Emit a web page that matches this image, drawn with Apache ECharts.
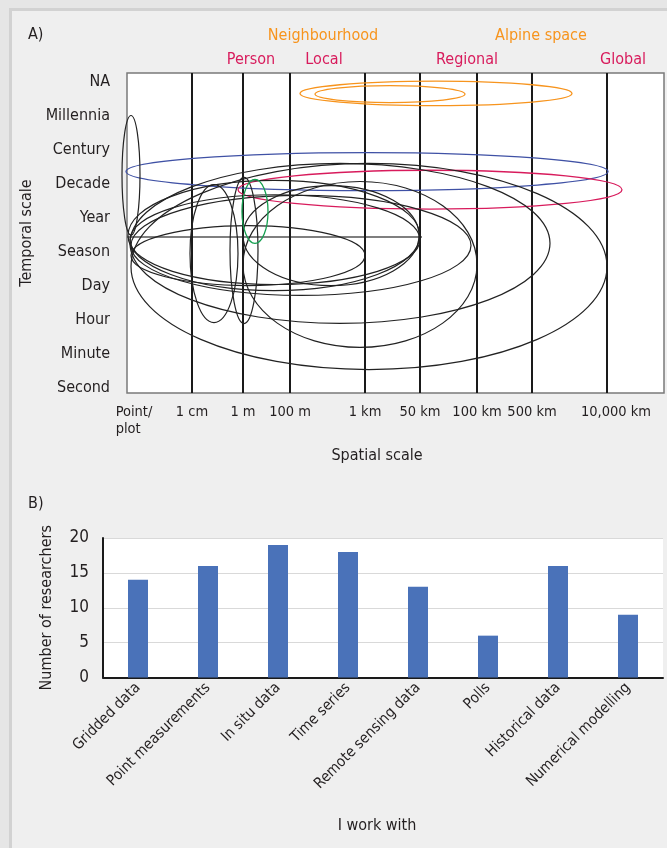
<!DOCTYPE html>
<html>
<head>
<meta charset="utf-8">
<script src="https://cdn.jsdelivr.net/npm/echarts@6/dist/echarts.min.js"></script>
<style>
html,body{margin:0;padding:0;background:#e6e6e6;}
#frame{position:absolute;left:9px;top:8px;width:658px;height:840px;background:#efefef;border-left:3px solid #d2d2d2;border-top:3px solid #d2d2d2;}
#chart{position:absolute;left:0;top:0;width:667px;height:848px;}
</style>
</head>
<body>
<div id="frame"></div>
<div id="chart"></div>
<script>
// ---------- Panel A data ----------
const spatialLabels = ['Point/\nplot', '1 cm', '1 m', '100 m', '1 km', '50 km', '100 km', '500 km', '10,000 km'];
const spatialPos = [0, 6.5, 11.6, 16.3, 23.8, 29.3, 35.0, 40.5, 48.0];
const temporalLabels = ['Second', 'Minute', 'Hour', 'Day', 'Season', 'Year', 'Decade', 'Century', 'Millennia', 'NA'];
const temporalPos = [0, 1, 2, 3, 4, 5, 6, 7, 8, 9];
// ellipses: [centre x, centre y, radius x, radius y] in axis units
const blackEllipses = [
  [0.4, 6.24, 0.9, 1.76],
  [8.7, 3.94, 2.4, 2.03],
  [11.7, 4.03, 1.4, 2.15],
  [12.1, 3.88, 11.7, 0.88],
  [20.4, 4.47, 8.8, 1.47],
  [14.7, 4.47, 14.6, 1.62],
  [14.8, 4.35, 14.5, 1.32],
  [17.4, 4.18, 17.0, 1.47],
  [23.3, 3.62, 11.7, 2.44],
  [21.3, 4.24, 21.0, 2.35],
  [24.2, 3.56, 23.8, 3.03]
];
const blueEllipses = [[24.0, 6.35, 24.1, 0.56]];
const pinkEllipses = [[30.3, 5.82, 19.2, 0.57]];
const greenEllipses = [[12.8, 5.18, 1.3, 0.94]];
const orangeEllipses = [[30.9, 8.65, 13.6, 0.36], [26.3, 8.63, 7.5, 0.25]];
const crossLine = [[0, 4.43], [29.5, 4.43]];
const scaleTitlesOrange = ['Neighbourhood', 'Alpine space'];
const scaleTitlesPink = ['Person', 'Local', 'Regional', 'Global'];

// ---------- Panel B data ----------
const dataTypes = ['Gridded data', 'Point measurements', 'In situ data', 'Time series', 'Remote sensing data', 'Polls', 'Historical data', 'Numerical modelling'];
const researchers = [14, 16, 19, 18, 13, 6, 16, 9];

const FONT = "'Liberation Sans Narrow', 'DejaVu Sans Condensed', 'Roboto', sans-serif";
const TXT = '#231f20';
const ORANGE = '#f7941d';
const PINK = '#d81b5c';

function ellipseSeries(data, color, width) {
  return {
    type: 'custom', xAxisIndex: 0, yAxisIndex: 0, data: data, clip: false, silent: true, z: 5,
    renderItem: function (params, api) {
      const c = api.coord([api.value(0), api.value(1)]);
      const s = api.size([api.value(2), api.value(3)]);
      return { type: 'ellipse', shape: { cx: c[0], cy: c[1], rx: s[0], ry: s[1] },
        style: { fill: 'none', stroke: color, lineWidth: width } };
    }
  };
}

const chart = echarts.init(document.getElementById('chart'), null, { renderer: 'canvas' });
chart.setOption({
  animation: false,
  backgroundColor: 'transparent',
  textStyle: { fontFamily: FONT },
  grid: [
    { left: 127, right: 3, top: 73, height: 320, show: true, backgroundColor: '#ffffff', borderColor: '#7a7a7a', borderWidth: 1.5 },
    { left: 103, right: 4, top: 538, height: 139.5, show: true, backgroundColor: '#ffffff', borderWidth: 0 }
  ],
  xAxis: [
    { type: 'value', gridIndex: 0, min: 0, max: 53.7,
      axisLine: { show: false }, axisTick: { show: false }, splitLine: { show: false },
      axisLabel: { customValues: spatialPos, fontSize: 14.5, color: TXT, margin: 11, fontFamily: FONT, lineHeight: 17,
        formatter: function (v) {
          const i = spatialPos.indexOf(v);
          if (i < 0) return '';
          if (i === 0) return '{first|' + spatialLabels[i] + '}';
          if (i === spatialLabels.length - 1) return '{last|' + spatialLabels[i] + '}';
          return spatialLabels[i];
        },
        rich: {
          first: { fontSize: 14.5, lineHeight: 17, color: TXT, fontFamily: FONT, align: 'left', padding: [0, 0, 0, 14] },
          last: { fontSize: 14.5, lineHeight: 17, color: TXT, fontFamily: FONT, padding: [0, 0, 0, 18] }
        } } },
    { type: 'category', gridIndex: 1, data: dataTypes,
      axisLine: { show: true, lineStyle: { color: '#1a1a1a', width: 2 } },
      axisTick: { show: false },
      axisLabel: { rotate: 45, fontSize: 15, color: TXT, margin: 8, fontFamily: FONT, interval: 0 },
      name: 'I work with', nameLocation: 'middle', nameGap: 140,
      nameTextStyle: { fontSize: 16, color: TXT, fontFamily: FONT, padding: [0, 12, 0, 0] } }
  ],
  yAxis: [
    { type: 'value', gridIndex: 0, min: -0.16, max: 9.25,
      axisLine: { show: false }, axisTick: { show: false }, splitLine: { show: false },
      axisLabel: { customValues: temporalPos, fontSize: 16, color: TXT, margin: 17, fontFamily: FONT,
        formatter: function (v) { const i = temporalPos.indexOf(v); return i >= 0 ? temporalLabels[i] : ''; } },
      name: 'Temporal scale', nameLocation: 'middle', nameGap: 85,
      nameTextStyle: { fontSize: 16, color: TXT, fontFamily: FONT } },
    { type: 'value', gridIndex: 1, min: 0, max: 20, interval: 5,
      axisLine: { show: true, lineStyle: { color: '#1a1a1a', width: 2 } },
      axisTick: { show: false },
      splitLine: { show: true, lineStyle: { color: '#d9d9d9', width: 1 } },
      axisLabel: { fontSize: 17, color: TXT, margin: 14, fontFamily: FONT },
      name: 'Number of researchers', nameLocation: 'middle', nameGap: 48,
      nameTextStyle: { fontSize: 16, color: TXT, fontFamily: FONT } }
  ],
  graphic: [
    { type: 'text', left: 28, top: 27, style: { text: 'A)', fontSize: 16, fill: TXT, fontFamily: FONT } },
    { type: 'text', left: 28, top: 496, style: { text: 'B)', fontSize: 16, fill: TXT, fontFamily: FONT } },
    { type: 'text', x: 323, y: 36, style: { text: scaleTitlesOrange[0], fontSize: 16, fill: ORANGE, fontFamily: FONT, align: 'center', verticalAlign: 'middle' } },
    { type: 'text', x: 541, y: 36, style: { text: scaleTitlesOrange[1], fontSize: 16, fill: ORANGE, fontFamily: FONT, align: 'center', verticalAlign: 'middle' } },
    { type: 'text', x: 251, y: 60, style: { text: scaleTitlesPink[0], fontSize: 16, fill: PINK, fontFamily: FONT, align: 'center', verticalAlign: 'middle' } },
    { type: 'text', x: 324, y: 60, style: { text: scaleTitlesPink[1], fontSize: 16, fill: PINK, fontFamily: FONT, align: 'center', verticalAlign: 'middle' } },
    { type: 'text', x: 467, y: 60, style: { text: scaleTitlesPink[2], fontSize: 16, fill: PINK, fontFamily: FONT, align: 'center', verticalAlign: 'middle' } },
    { type: 'text', x: 623, y: 60, style: { text: scaleTitlesPink[3], fontSize: 16, fill: PINK, fontFamily: FONT, align: 'center', verticalAlign: 'middle' } },
    { type: 'text', x: 377, y: 456, style: { text: 'Spatial scale', fontSize: 16, fill: TXT, fontFamily: FONT, align: 'center', verticalAlign: 'middle' } }
  ],
  series: [
    { type: 'line', xAxisIndex: 0, yAxisIndex: 0, data: crossLine, symbol: 'none', silent: true, z: 4,
      lineStyle: { color: '#555555', width: 1.5 },
      markLine: { silent: true, symbol: ['none', 'none'], label: { show: false },
        lineStyle: { color: '#1a1a1a', width: 2, type: 'solid' },
        data: spatialPos.slice(1).map(function (v) { return { xAxis: v }; }) } },
    ellipseSeries(orangeEllipses, ORANGE, 1.3),
    ellipseSeries(blueEllipses, '#3f51a5', 1.3),
    ellipseSeries(pinkEllipses, PINK, 1.3),
    ellipseSeries(blackEllipses, '#222222', 1.2),
    ellipseSeries(greenEllipses, '#14a050', 1.3),
    { type: 'bar', xAxisIndex: 1, yAxisIndex: 1, data: researchers, barWidth: 20,
      itemStyle: { color: '#4a72b9' } }
  ]
});
</script>
</body>
</html>
